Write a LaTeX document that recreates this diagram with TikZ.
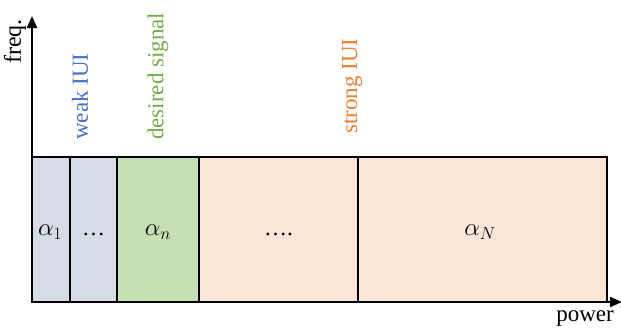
\documentclass[tikz,border=0pt]{standalone}
\usepackage{fontspec}
\setmainfont{Liberation Serif}
\usetikzlibrary{arrows.meta}
\definecolor{cblue}{HTML}{D6DCE5}
\definecolor{cgreen}{HTML}{C5E0B4}
\definecolor{cpeach}{HTML}{FBE5D6}
\definecolor{tblue}{HTML}{4472C4}
\definecolor{tgreen}{HTML}{70AD47}
\definecolor{torange}{HTML}{ED7D31}
\begin{document}
\begin{tikzpicture}[x=1pt,y=-1pt,
  every node/.style={font=\fontsize{23}{27}\selectfont, inner sep=0pt},
  mathlab/.style={font=\fontsize{27}{31}\selectfont},
  cell/.style={draw=black, line width=1.5pt},
  axis/.style={line width=2pt, -{Triangle[length=12pt,width=10pt]}},
  vlabel/.style={rotate=90, anchor=west}]
\useasboundingbox (0,0) rectangle (621,330);
% cells
\draw[cell, fill=cblue] (32,157) rectangle (70,302);
\draw[cell, fill=cblue] (70,157) rectangle (117,302);
\draw[cell, fill=cgreen] (117,157) rectangle (199,302);
\draw[cell, fill=cpeach] (199,157) rectangle (358,302);
\draw[cell, fill=cpeach] (358,157) rectangle (607,302);
\node[mathlab] (a1) at (50,232) {$\alpha_1$};
\node (d1) at (93.5,234) {…};
\node[mathlab] (an) at (158,232) {$\alpha_n$};
\node (d2) at (278.5,234) {….};
\node[mathlab] (aN) at (480,232) {$\alpha_N$};
% axes
\coordinate (o) at (32,302);
\coordinate (ytop) at (32,16);
\coordinate (xend) at (622,302);
\draw[axis] (o) -- (ytop);
\draw[axis] (o) -- (xend);
\node[rotate=90, anchor=east, font=\fontsize{24}{28}\selectfont] (freq) at (15,19) {freq.};
\node[anchor=north east] (power) at (614,310) {power};
% labels
\node[vlabel, text=tblue] (weak) at (80,140) {weak IUI};
\node[vlabel, text=tgreen] (des) at (158,140) {desired signal};
\node[vlabel, text=torange] (strong) at (352,134) {strong IUI};
\end{tikzpicture}
\end{document}
